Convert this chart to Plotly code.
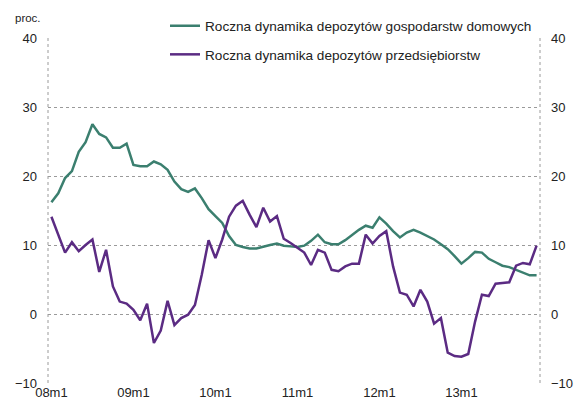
import plotly.graph_objects as go

# miesiące 08m1 .. 13m12
months = [f"{y:02d}m{m}" for y in range(8, 14) for m in range(1, 13)]
tick_labels = ["08m1", "09m1", "10m1", "11m1", "12m1", "13m1"]

households = [
    16.2, 17.5, 19.7, 20.7, 23.5, 24.9, 27.5, 26.1, 25.6, 24.1, 24.1, 24.7,
    21.6, 21.4, 21.4, 22.1, 21.7, 20.9, 19.2, 18.1, 17.7, 18.2, 16.8, 15.2,
    14.2, 13.2, 11.3, 10.0, 9.7, 9.5, 9.5, 9.8, 10.0, 10.2, 9.9, 9.8,
    9.7, 9.9, 10.6, 11.5, 10.4, 10.1, 10.1, 10.7, 11.5, 12.2, 12.8, 12.5,
    14.0, 13.1, 12.0, 11.1, 11.8, 12.2, 11.8, 11.3, 10.8, 10.1, 9.4, 8.4,
    7.3, 8.1, 9.0, 8.9, 8.0, 7.5, 7.0, 6.8, 6.4, 6.1, 5.6, 5.6,
]

companies = [
    14.1, 11.4, 8.9, 10.4, 9.1, 10.0, 10.8, 6.1, 9.3, 4.0, 1.8, 1.5,
    0.6, -0.9, 1.5, -4.2, -2.4, 1.9, -1.6, -0.6, -0.1, 1.3, 5.7, 10.7,
    8.1, 10.8, 14.1, 15.7, 16.4, 14.4, 12.6, 15.4, 13.4, 14.2, 10.9, 10.3,
    9.6, 8.9, 7.1, 9.3, 8.9, 6.4, 6.2, 6.9, 7.3, 7.3, 11.5, 10.2,
    11.3, 12.0, 6.9, 3.1, 2.8, 1.1, 3.5, 1.8, -1.4, -0.6, -5.6, -6.1,
    -6.2, -5.8, -1.1, 2.8, 2.6, 4.4, 4.5, 4.6, 7.0, 7.4, 7.2, 9.9,
]

GREEN = "#3b7f6f"
PURPLE = "#5b2b83"
FONT = "Liberation Sans, Arial, sans-serif"

x = list(range(len(months)))
tickvals = [months.index(t) for t in tick_labels]

fig = go.Figure()

fig.add_trace(go.Scatter(
    x=x, y=households, mode="lines",
    name="Roczna dynamika depozytów gospodarstw domowych",
    line=dict(color=GREEN, width=2.5),
    legend="legend",
))
fig.add_trace(go.Scatter(
    x=x, y=companies, mode="lines",
    name="Roczna dynamika depozytów przedsiębiorstw",
    line=dict(color=PURPLE, width=2.5),
    legend="legend2",
))
# pusty ślad, żeby pokazać prawą oś
fig.add_trace(go.Scatter(
    x=[None], y=[None], yaxis="y2", showlegend=False, hoverinfo="skip",
))

# kropkowane ramki po bokach
for xp in (0, 1):
    fig.add_shape(type="line", xref="paper", yref="paper", x0=xp, x1=xp, y0=0, y1=1,
                  line=dict(color="#9a9a9a", width=1, dash="dot"))

fig.add_annotation(xref="paper", yref="paper", x=-0.072, y=1.058,
                   xanchor="left", yanchor="middle",
                   text="proc.", showarrow=False, font=dict(size=11.5, color="#222"))

fig.update_layout(
    width=578, height=406,
    margin=dict(l=48, r=38, t=38, b=23, autoexpand=False),
    plot_bgcolor="white", paper_bgcolor="white",
    font=dict(family=FONT, size=13, color="#222"),
    xaxis=dict(
        range=[-0.5, len(months) - 0.5],
        tickvals=tickvals, ticktext=tick_labels,
        showgrid=False, zeroline=False, showline=False,
        ticks="", tickfont=dict(size=13),
    ),
    yaxis=dict(
        range=[-10, 40], dtick=10,
        gridcolor="#9a9a9a", griddash="dot", gridwidth=1,
        zeroline=False, showline=False, ticks="",
        ticklabelstandoff=10,
    ),
    yaxis2=dict(
        range=[-10, 40], dtick=10, overlaying="y", side="right",
        showgrid=False, zeroline=False, showline=False, ticks="",
        ticklabelstandoff=10,
    ),
    legend=dict(x=165 / 578, y=1 - 26 / 406, xref="container", yref="container",
                xanchor="left", yanchor="middle",
                bgcolor="rgba(0,0,0,0)", font=dict(size=13.6)),
    legend2=dict(x=165 / 578, y=1 - 54.5 / 406, xref="container", yref="container",
                 xanchor="left", yanchor="middle",
                 bgcolor="rgba(0,0,0,0)", font=dict(size=13.6)),
    showlegend=True,
)

# bez marginesu strony, żeby wykres zaczynał się w (0, 0)
fig.write_html("out.html", config={"displayModeBar": False},
               post_script="document.body.style.margin='0';")
